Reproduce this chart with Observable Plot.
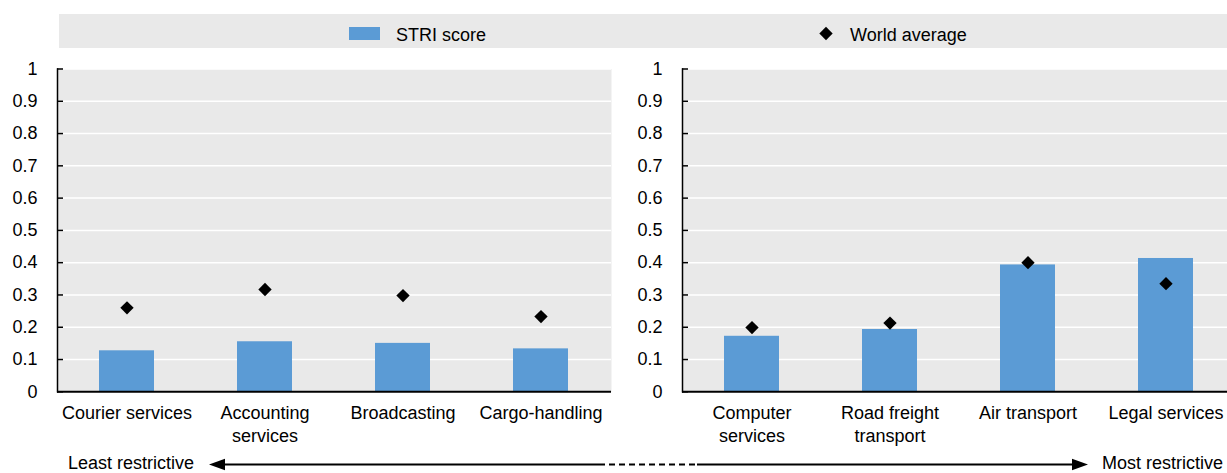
<!DOCTYPE html>
<html>
<head>
<meta charset="utf-8">
<script src="https://cdn.jsdelivr.net/npm/d3@7"></script>
<script src="https://cdn.jsdelivr.net/npm/@observablehq/plot@0.6"></script>
<style>
  html, body { margin: 0; padding: 0; background: #fff; overflow: hidden; }
  body { width: 1227px; height: 473px; position: relative; font-family: "Liberation Sans", Arial, sans-serif; font-size: 18px; color: #000; }
  .abs { position: absolute; }
  #legend { left: 59px; top: 14px; width: 1168px; height: 34px; background: #e9e9e9; }
  #left { left: 0px; top: 50px; width: 615px; }
  #right { left: 625px; top: 50px; width: 615px; }
  #arrow { left: 0; top: 440px; }
</style>
</head>
<body>
<div id="legend" class="abs"></div>
<div id="left" class="abs"></div>
<div id="right" class="abs"></div>
<svg id="arrow" class="abs" width="1227" height="33"></svg>
<script>
// ---- data ----
const categoriesLeft = ["Courier services", "Accounting services", "Broadcasting", "Cargo-handling"];
const labelsLeft = ["Courier services", "Accounting\nservices", "Broadcasting", "Cargo-handling"];
const striLeft = [0.127, 0.155, 0.150, 0.133];
const worldAvgLeft = [0.260, 0.317, 0.298, 0.233];

const categoriesRight = ["Computer services", "Road freight transport", "Air transport", "Legal services"];
const labelsRight = ["Computer\nservices", "Road freight\ntransport", "Air transport", "Legal services"];
const striRight = [0.172, 0.193, 0.393, 0.413];
const worldAvgRight = [0.199, 0.213, 0.400, 0.335];

const yTicks = [0, 0.1, 0.2, 0.3, 0.4, 0.5, 0.6, 0.7, 0.8, 0.9, 1];
const yTickLabels = ["0", "0.1", "0.2", "0.3", "0.4", "0.5", "0.6", "0.7", "0.8", "0.9", "1"];

const seriesNames = ["STRI score", "World average"];
const arrowLabels = ["Least restrictive", "Most restrictive"];

const BAR = "#5b9bd5";
const PANEL_BG = "#e9e9e9";
const FONT = "'Liberation Sans', Arial, sans-serif";

function panel(cats, labels, stri, avg) {
  const data = cats.map((c, i) => ({cat: c, stri: stri[i], avg: avg[i]}));
  const labelOf = new Map(cats.map((c, i) => [c, labels[i]]));
  const W = 615, H = 400, ML = 57, MR = 4, MT = 18.5, MB = 58.7;
  const plotW = W - ML - MR;
  return Plot.plot({
    width: W, height: H,
    marginLeft: ML, marginRight: MR, marginTop: MT, marginBottom: MB,
    style: {fontFamily: FONT, fontSize: "18px", color: "#000", background: "transparent", overflow: "visible", maxWidth: "none"},
    x: {domain: cats, paddingInner: 0.6, paddingOuter: 0.3, axis: null},
    y: {domain: [0, 1], axis: null},
    marks: [
      Plot.frame({fill: PANEL_BG, stroke: "none"}),
      Plot.gridY(yTicks.slice(1), {stroke: "white", strokeOpacity: 1, strokeWidth: 1.5}),
      Plot.barY(data, {x: "cat", y: "stri", fill: BAR}),
      Plot.dot(data, {x: "cat", y: "avg", symbol: "diamond2", r: 6, fill: "black", stroke: "none"}),
      Plot.ruleY([0], {stroke: "black", strokeWidth: 2}),
      Plot.frame({anchor: "left", stroke: "black", strokeWidth: 1.5}),
      Plot.tickY(yTicks, {y: d => d, stroke: "black", strokeWidth: 1.5, insetRight: plotW - 6}),
      Plot.axisY(yTicks, {tickSize: 0, tickPadding: 20, fontSize: 18, label: null,
        tickFormat: d => yTickLabels[yTicks.indexOf(d)]}),
      Plot.axisX({tickSize: 0, tickPadding: 11, fontSize: 18, lineHeight: 1.28, label: null,
        tickFormat: d => labelOf.get(d)})
    ]
  });
}

document.getElementById("left").appendChild(panel(categoriesLeft, labelsLeft, striLeft, worldAvgLeft));
document.getElementById("right").appendChild(panel(categoriesRight, labelsRight, striRight, worldAvgRight));

// ---- legend ----
const lg = d3.select("#legend").append("svg").attr("width", 1168).attr("height", 34)
  .style("font-family", FONT).style("font-size", "18px");
lg.append("rect").attr("x", 349 - 59).attr("y", 13).attr("width", 31).attr("height", 13).attr("fill", BAR);
lg.append("text").attr("x", 396 - 59).attr("y", 26.5).text(seriesNames[0]);
lg.append("path").attr("transform", `translate(${826 - 59},19.5)`)
  .attr("d", d3.symbol(d3.symbolDiamond2, Math.PI * 36)()).attr("fill", "black");
lg.append("text").attr("x", 850 - 59).attr("y", 26.5).text(seriesNames[1]);

// ---- bottom arrow ----
const ar = d3.select("#arrow").style("font-family", FONT).style("font-size", "18px");
const ay = 24.5;
ar.append("text").attr("x", 68).attr("y", 29).text(arrowLabels[0]);
ar.append("text").attr("x", 1223).attr("y", 29).attr("text-anchor", "end").text(arrowLabels[1]);
ar.append("line").attr("x1", 222).attr("x2", 599).attr("y1", ay).attr("y2", ay).attr("stroke", "black").attr("stroke-width", 2);
ar.append("line").attr("x1", 599).attr("x2", 697).attr("y1", ay).attr("y2", ay).attr("stroke", "black").attr("stroke-width", 2).attr("stroke-dasharray", "6,4");
ar.append("line").attr("x1", 697).attr("x2", 1075).attr("y1", ay).attr("y2", ay).attr("stroke", "black").attr("stroke-width", 2);
ar.append("path").attr("d", `M209,${ay} L225,${ay - 5.7} L225,${ay + 5.7} Z`).attr("fill", "black");
ar.append("path").attr("d", `M1088,${ay} L1072,${ay - 5.7} L1072,${ay + 5.7} Z`).attr("fill", "black");
</script>
</body>
</html>
